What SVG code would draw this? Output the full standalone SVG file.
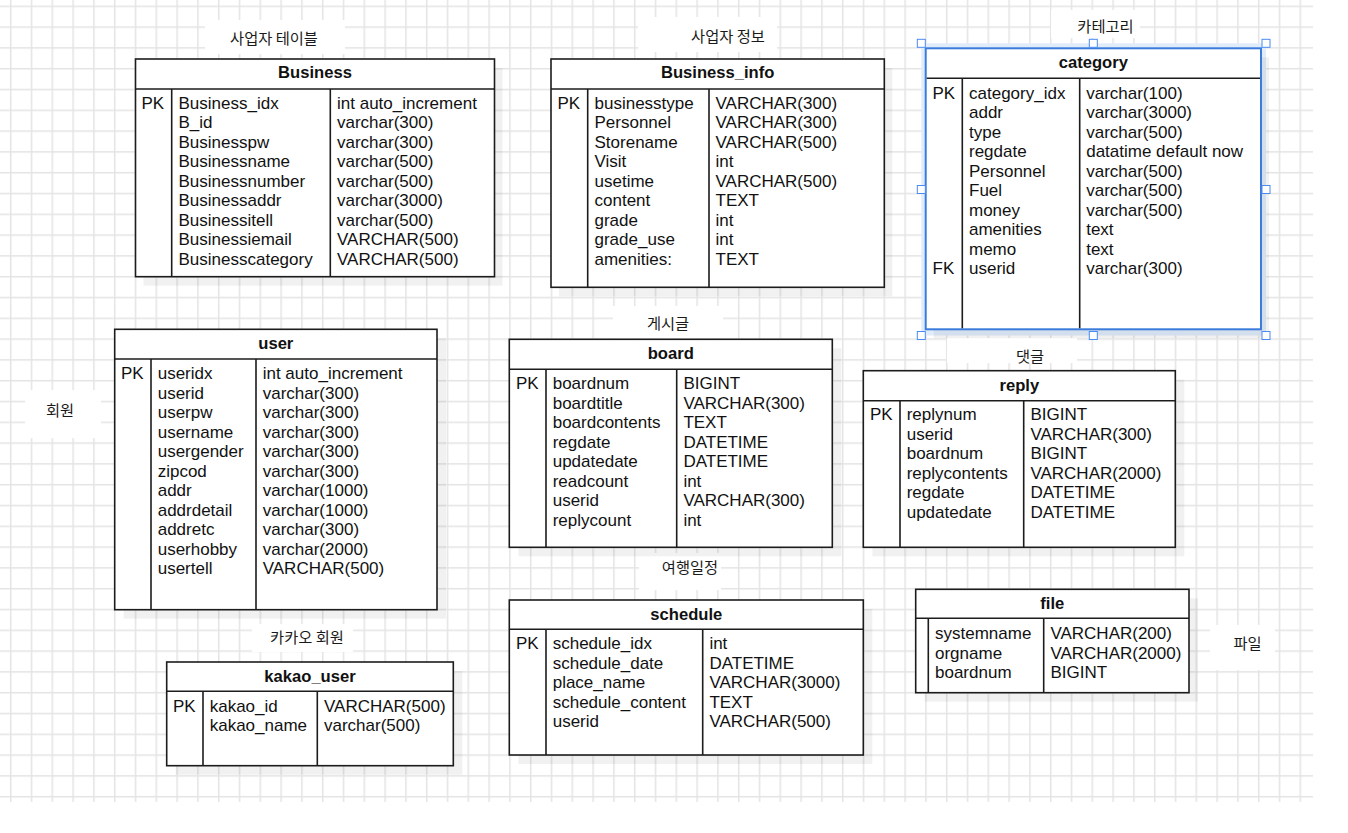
<svg xmlns="http://www.w3.org/2000/svg" width="1348" height="833" viewBox="0 0 1348 833">
  <defs>
    <pattern id="grid" width="20.8" height="20.8" patternUnits="userSpaceOnUse" x="9.95" y="5.55">
      <path d="M0.75 0V20.8M0 0.75H20.8" stroke="#e4e4e4" stroke-width="1.5" fill="none"/>
    </pattern>
    <style>
      .box { fill: #ffffff; stroke: #1c1c1c; stroke-width: 1.6; }
      .sel { fill: #ffffff; stroke: #3a7bdc; stroke-width: 2; }
      .ln { stroke: #1c1c1c; stroke-width: 1.6; fill: none; }
      .sh { fill: #000000; opacity: 0.055; }
      .t { font-family: "Liberation Sans", Arial, sans-serif; font-size: 17px; fill: #111111; }
      .h { font-family: "Liberation Sans", Arial, sans-serif; font-size: 16.6px; font-weight: bold; fill: #111111; text-anchor: middle; }
      .lbl { font-family: "Noto Sans CJK KR", "Noto Sans", sans-serif; font-size: 15.3px; fill: #1a1a1a; text-anchor: middle; }
      .lbg { fill: #ffffff; }
      .halo { fill: #e1ecfb; }
      .hd { fill: #ffffff; stroke: #4a8af4; stroke-width: 1; }
    </style>
  </defs>

  <!-- canvas -->
  <rect x="0" y="0" width="1348" height="833" fill="#ffffff"/>
  <rect x="0" y="0" width="1313" height="802" fill="url(#grid)"/>

  <!-- labels -->
  <g id="label-business">
    <rect class="lbg" x="205" y="20" width="140" height="34"/>
    <text class="lbl" x="274" y="43.5">사업자 테이블</text>
  </g>
  <g id="label-business-info">
    <rect class="lbg" x="638" y="17" width="139" height="35"/>
    <text class="lbl" x="728" y="41.5">사업자 정보</text>
  </g>
  <g id="label-category">
    <rect class="lbg" x="1051" y="10" width="89" height="28"/>
    <text class="lbl" x="1105.5" y="31.5">카테고리</text>
  </g>
  <g id="label-user">
    <rect class="lbg" x="25" y="390" width="76" height="48"/>
    <text class="lbl" x="60" y="415.5">회원</text>
  </g>
  <g id="label-kakao">
    <rect class="lbg" x="252" y="624" width="101" height="28"/>
    <text class="lbl" x="307" y="642.5">카카오 회원</text>
  </g>
  <g id="label-board">
    <rect class="lbg" x="613" y="306" width="110" height="32"/>
    <text class="lbl" x="668" y="328.5">게시글</text>
  </g>
  <g id="label-reply">
    <rect class="lbg" x="947" y="338" width="130" height="25"/>
    <text class="lbl" x="1030" y="361.5">댓글</text>
  </g>
  <g id="label-schedule">
    <rect class="lbg" x="639" y="553" width="82" height="37"/>
    <text class="lbl" x="690" y="572.5">여행일정</text>
  </g>
  <g id="label-file">
    <rect class="lbg" x="1210" y="625" width="65" height="45"/>
    <text class="lbl" x="1247.5" y="648.5">파일</text>
  </g>

  <!-- Business -->
  <g id="business">
    <rect class="sh" x="143.5" y="68" width="359" height="217.7"/>
    <rect class="box" x="135.5" y="59" width="359" height="217.7"/>
    <path class="ln" d="M135.5 89H494.5M171.7 89V276.7M330.3 89V276.7"/>
    <text class="h" x="315" y="78">Business</text>
    <text class="t" x="141.5" y="108.6">PK</text>
    <text class="t" y="108.6"><tspan x="178.5">Business_idx</tspan><tspan x="178.5" dy="19.5">B_id</tspan><tspan x="178.5" dy="19.5">Businesspw</tspan><tspan x="178.5" dy="19.5">Businessname</tspan><tspan x="178.5" dy="19.5">Businessnumber</tspan><tspan x="178.5" dy="19.5">Businessaddr</tspan><tspan x="178.5" dy="19.5">Businessitell</tspan><tspan x="178.5" dy="19.5">Businessiemail</tspan><tspan x="178.5" dy="19.5">Businesscategory</tspan></text>
    <text class="t" y="108.6"><tspan x="337">int auto_increment</tspan><tspan x="337" dy="19.5">varchar(300)</tspan><tspan x="337" dy="19.5">varchar(300)</tspan><tspan x="337" dy="19.5">varchar(500)</tspan><tspan x="337" dy="19.5">varchar(500)</tspan><tspan x="337" dy="19.5">varchar(3000)</tspan><tspan x="337" dy="19.5">varchar(500)</tspan><tspan x="337" dy="19.5">VARCHAR(500)</tspan><tspan x="337" dy="19.5">VARCHAR(500)</tspan></text>
  </g>

  <!-- Business_info -->
  <g id="business-info">
    <rect class="sh" x="559" y="68" width="333.3" height="228.3"/>
    <rect class="box" x="551" y="59" width="333.3" height="228.3"/>
    <path class="ln" d="M551 89H884.3M587.7 89V287.3M709 89V287.3"/>
    <text class="h" x="717.7" y="78">Business_info</text>
    <text class="t" x="557.5" y="108.6">PK</text>
    <text class="t" y="108.6"><tspan x="594.5">businesstype</tspan><tspan x="594.5" dy="19.5">Personnel</tspan><tspan x="594.5" dy="19.5">Storename</tspan><tspan x="594.5" dy="19.5">Visit</tspan><tspan x="594.5" dy="19.5">usetime</tspan><tspan x="594.5" dy="19.5">content</tspan><tspan x="594.5" dy="19.5">grade</tspan><tspan x="594.5" dy="19.5">grade_use</tspan><tspan x="594.5" dy="19.5">amenities:</tspan></text>
    <text class="t" y="108.6"><tspan x="715.5">VARCHAR(300)</tspan><tspan x="715.5" dy="19.5">VARCHAR(300)</tspan><tspan x="715.5" dy="19.5">VARCHAR(500)</tspan><tspan x="715.5" dy="19.5">int</tspan><tspan x="715.5" dy="19.5">VARCHAR(500)</tspan><tspan x="715.5" dy="19.5">TEXT</tspan><tspan x="715.5" dy="19.5">int</tspan><tspan x="715.5" dy="19.5">int</tspan><tspan x="715.5" dy="19.5">TEXT</tspan></text>
  </g>

  <!-- category (selected) -->
  <g id="category">
    <rect class="halo" x="921.3" y="43.3" width="344.7" height="292.2"/>
    <rect class="sh" x="933.7" y="57.3" width="335.3" height="281"/>
    <rect class="sel" x="925.7" y="48.3" width="335.3" height="281"/>
    <path class="ln" d="M926.7 78.3H1260M962.3 78.3V328.3M1079.7 78.3V328.3"/>
    <text class="h" x="1093.3" y="68">category</text>
    <text class="t" x="932.5" y="98.6">PK</text>
    <text class="t" x="932.5" y="274.1">FK</text>
    <text class="t" y="98.6"><tspan x="969">category_idx</tspan><tspan x="969" dy="19.5">addr</tspan><tspan x="969" dy="19.5">type</tspan><tspan x="969" dy="19.5">regdate</tspan><tspan x="969" dy="19.5">Personnel</tspan><tspan x="969" dy="19.5">Fuel</tspan><tspan x="969" dy="19.5">money</tspan><tspan x="969" dy="19.5">amenities</tspan><tspan x="969" dy="19.5">memo</tspan><tspan x="969" dy="19.5">userid</tspan></text>
    <text class="t" y="98.6"><tspan x="1086.2">varchar(100)</tspan><tspan x="1086.2" dy="19.5">varchar(3000)</tspan><tspan x="1086.2" dy="19.5">varchar(500)</tspan><tspan x="1086.2" dy="19.5">datatime default now</tspan><tspan x="1086.2" dy="19.5">varchar(500)</tspan><tspan x="1086.2" dy="19.5">varchar(500)</tspan><tspan x="1086.2" dy="19.5">varchar(500)</tspan><tspan x="1086.2" dy="19.5">text</tspan><tspan x="1086.2" dy="19.5">text</tspan><tspan x="1086.2" dy="19.5">varchar(300)</tspan></text>
    <rect class="hd" x="917.3" y="39.3" width="8" height="8"/>
    <rect class="hd" x="1089.3" y="39.3" width="8" height="8"/>
    <rect class="hd" x="1262" y="39.3" width="8" height="8"/>
    <rect class="hd" x="917.3" y="185.5" width="8" height="8"/>
    <rect class="hd" x="1262" y="185.5" width="8" height="8"/>
    <rect class="hd" x="917.3" y="331.5" width="8" height="8"/>
    <rect class="hd" x="1089.3" y="331.5" width="8" height="8"/>
    <rect class="hd" x="1262" y="331.5" width="8" height="8"/>
  </g>

  <!-- user -->
  <g id="user">
    <rect class="sh" x="123.7" y="338.3" width="322.3" height="280.4"/>
    <rect class="box" x="114.7" y="329.3" width="322.3" height="280.4"/>
    <path class="ln" d="M114.7 359H437M151 359V609.7M256 359V609.7"/>
    <text class="h" x="275.8" y="349">user</text>
    <text class="t" x="121" y="379.2">PK</text>
    <text class="t" y="379.2"><tspan x="157.7">useridx</tspan><tspan x="157.7" dy="19.5">userid</tspan><tspan x="157.7" dy="19.5">userpw</tspan><tspan x="157.7" dy="19.5">username</tspan><tspan x="157.7" dy="19.5">usergender</tspan><tspan x="157.7" dy="19.5">zipcod</tspan><tspan x="157.7" dy="19.5">addr</tspan><tspan x="157.7" dy="19.5">addrdetail</tspan><tspan x="157.7" dy="19.5">addretc</tspan><tspan x="157.7" dy="19.5">userhobby</tspan><tspan x="157.7" dy="19.5">usertell</tspan></text>
    <text class="t" y="379.2"><tspan x="262.7">int auto_increment</tspan><tspan x="262.7" dy="19.5">varchar(300)</tspan><tspan x="262.7" dy="19.5">varchar(300)</tspan><tspan x="262.7" dy="19.5">varchar(300)</tspan><tspan x="262.7" dy="19.5">varchar(300)</tspan><tspan x="262.7" dy="19.5">varchar(300)</tspan><tspan x="262.7" dy="19.5">varchar(1000)</tspan><tspan x="262.7" dy="19.5">varchar(1000)</tspan><tspan x="262.7" dy="19.5">varchar(300)</tspan><tspan x="262.7" dy="19.5">varchar(2000)</tspan><tspan x="262.7" dy="19.5">VARCHAR(500)</tspan></text>
  </g>

  <!-- kakao_user -->
  <g id="kakao-user">
    <rect class="sh" x="175.7" y="671" width="286.6" height="103.7"/>
    <rect class="box" x="166.7" y="662" width="286.6" height="103.7"/>
    <path class="ln" d="M166.7 691.3H453.3M203 691.3V765.7M317.3 691.3V765.7"/>
    <text class="h" x="310" y="682">kakao_user</text>
    <text class="t" x="173" y="711.9">PK</text>
    <text class="t" y="711.9"><tspan x="209.7">kakao_id</tspan><tspan x="209.7" dy="19.5">kakao_name</tspan></text>
    <text class="t" y="711.9"><tspan x="324">VARCHAR(500)</tspan><tspan x="324" dy="19.5">varchar(500)</tspan></text>
  </g>

  <!-- board -->
  <g id="board">
    <rect class="sh" x="518.3" y="348.3" width="323" height="208"/>
    <rect class="box" x="509.3" y="339.3" width="323" height="208"/>
    <path class="ln" d="M509.3 369.3H832.3M546 369.3V547.3M676.7 369.3V547.3"/>
    <text class="h" x="670.8" y="359.3">board</text>
    <text class="t" x="516" y="389.2">PK</text>
    <text class="t" y="389.2"><tspan x="552.7">boardnum</tspan><tspan x="552.7" dy="19.5">boardtitle</tspan><tspan x="552.7" dy="19.5">boardcontents</tspan><tspan x="552.7" dy="19.5">regdate</tspan><tspan x="552.7" dy="19.5">updatedate</tspan><tspan x="552.7" dy="19.5">readcount</tspan><tspan x="552.7" dy="19.5">userid</tspan><tspan x="552.7" dy="19.5">replycount</tspan></text>
    <text class="t" y="389.2"><tspan x="683.4">BIGINT</tspan><tspan x="683.4" dy="19.5">VARCHAR(300)</tspan><tspan x="683.4" dy="19.5">TEXT</tspan><tspan x="683.4" dy="19.5">DATETIME</tspan><tspan x="683.4" dy="19.5">DATETIME</tspan><tspan x="683.4" dy="19.5">int</tspan><tspan x="683.4" dy="19.5">VARCHAR(300)</tspan><tspan x="683.4" dy="19.5">int</tspan></text>
  </g>

  <!-- reply -->
  <g id="reply">
    <rect class="sh" x="872.3" y="379.7" width="312" height="176.6"/>
    <rect class="box" x="863.3" y="370.7" width="312" height="176.6"/>
    <path class="ln" d="M863.3 400.7H1175.3M900 400.7V547.3M1023.7 400.7V547.3"/>
    <text class="h" x="1019.3" y="390.7">reply</text>
    <text class="t" x="870" y="420.2">PK</text>
    <text class="t" y="420.2"><tspan x="906.7">replynum</tspan><tspan x="906.7" dy="19.5">userid</tspan><tspan x="906.7" dy="19.5">boardnum</tspan><tspan x="906.7" dy="19.5">replycontents</tspan><tspan x="906.7" dy="19.5">regdate</tspan><tspan x="906.7" dy="19.5">updatedate</tspan></text>
    <text class="t" y="420.2"><tspan x="1030.4">BIGINT</tspan><tspan x="1030.4" dy="19.5">VARCHAR(300)</tspan><tspan x="1030.4" dy="19.5">BIGINT</tspan><tspan x="1030.4" dy="19.5">VARCHAR(2000)</tspan><tspan x="1030.4" dy="19.5">DATETIME</tspan><tspan x="1030.4" dy="19.5">DATETIME</tspan></text>
  </g>

  <!-- schedule -->
  <g id="schedule">
    <rect class="sh" x="518.3" y="609" width="354" height="155"/>
    <rect class="box" x="509.3" y="600" width="354" height="155"/>
    <path class="ln" d="M509.3 629.3H863.3M546 629.3V755M702.7 629.3V755"/>
    <text class="h" x="686.3" y="619.7">schedule</text>
    <text class="t" x="516" y="649.2">PK</text>
    <text class="t" y="649.2"><tspan x="552.7">schedule_idx</tspan><tspan x="552.7" dy="19.5">schedule_date</tspan><tspan x="552.7" dy="19.5">place_name</tspan><tspan x="552.7" dy="19.5">schedule_content</tspan><tspan x="552.7" dy="19.5">userid</tspan></text>
    <text class="t" y="649.2"><tspan x="709.4">int</tspan><tspan x="709.4" dy="19.5">DATETIME</tspan><tspan x="709.4" dy="19.5">VARCHAR(3000)</tspan><tspan x="709.4" dy="19.5">TEXT</tspan><tspan x="709.4" dy="19.5">VARCHAR(500)</tspan></text>
  </g>

  <!-- file -->
  <g id="file">
    <rect class="sh" x="924.7" y="598.3" width="273.3" height="103.4"/>
    <rect class="box" x="915.7" y="589.3" width="273.3" height="103.4"/>
    <path class="ln" d="M915.7 618.3H1189M928.3 618.3V692.7M1043.7 618.3V692.7"/>
    <text class="h" x="1052.3" y="609">file</text>
    <text class="t" y="639.2"><tspan x="935">systemname</tspan><tspan x="935" dy="19.5">orgname</tspan><tspan x="935" dy="19.5">boardnum</tspan></text>
    <text class="t" y="639.2"><tspan x="1050.4">VARCHAR(200)</tspan><tspan x="1050.4" dy="19.5">VARCHAR(2000)</tspan><tspan x="1050.4" dy="19.5">BIGINT</tspan></text>
  </g>

  <!-- no relationship lines are drawn between the tables -->
  <g id="connectors"></g>
</svg>
